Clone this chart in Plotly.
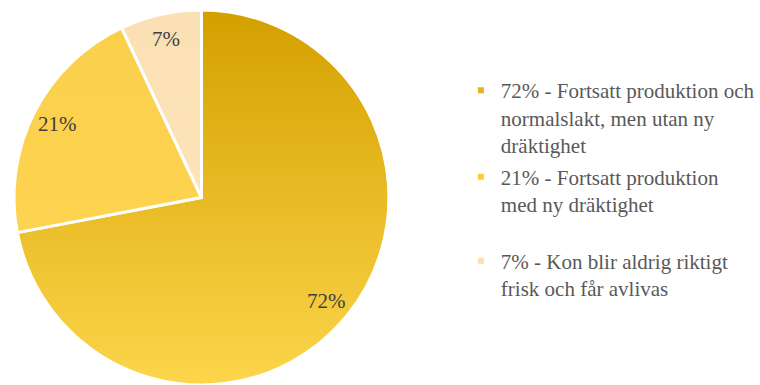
import math
import base64
import plotly.graph_objects as go

# Outcome shares (percent) and their legend descriptions
shares = [72, 21, 7]
descriptions = [
    "Fortsatt produktion och<br>normalslakt, men utan ny<br>dräktighet",
    "Fortsatt produktion<br>med ny dräktighet",
    "Kon blir aldrig riktigt<br>frisk och får avlivas",
]

# Slice fills are partly see-through so a vertical gold shading shows through
slice_rgb = [(253, 197, 0), (255, 213, 81), (255, 231, 195)]
slice_alpha = [0.35, 0.92, 0.92]
key_colors = ["#E3B21E", "#FFCB30", "#FFDDB0"]
shade_top, shade_bottom = "rgb(190,140,0)", "rgb(253,222,115)"

W, H = 760, 385
M_T = 10
dom_x = [0.0, 0.5316]
SERIF = "Liberation Serif, Times New Roman, DejaVu Serif, serif"

legend_labels = [f"{s}% - {d}" for s, d in zip(shares, descriptions)]
slice_colors = [f"rgba({r},{g},{b},{a})" for (r, g, b), a in zip(slice_rgb, slice_alpha)]

fig = go.Figure(
    go.Pie(
        labels=legend_labels,
        values=shares,
        sort=False,
        direction="clockwise",
        rotation=0,
        marker=dict(colors=slice_colors, line=dict(color="white", width=3)),
        textinfo="none",
        hoverinfo="label+percent",
        domain=dict(x=dom_x, y=[0, 1]),
        showlegend=False,
    )
)

# Legend keys: one small square per slice, each in its own legend box
legend_ids = ["legend", "legend2", "legend3"]
legend_tops = [0.840, 0.609, 0.385]
for lab, col, lid in zip(legend_labels, key_colors, legend_ids):
    fig.add_trace(go.Scatter(
        x=[None], y=[None], mode="markers", name=lab,
        marker=dict(symbol="square", size=6, color=col),
        legend=lid, showlegend=True, hoverinfo="skip",
    ))

legend_style = dict(
    x=0.608, xanchor="left", yanchor="top", valign="top",
    font=dict(family=SERIF, size=21, color="#595959"),
    bgcolor="rgba(0,0,0,0)",
)

# Pie geometry in pixels (used for the shading disc and the percent labels)
plot_h = H - M_T
radius = min((dom_x[1] - dom_x[0]) * W, plot_h) / 2
cx = (dom_x[0] + dom_x[1]) / 2 * W
cy = M_T + plot_h / 2

# Vertical shading disc placed behind the pie
svg = (
    '<svg xmlns="http://www.w3.org/2000/svg" width="200" height="200" viewBox="0 0 200 200">'
    '<defs><linearGradient id="g" x1="0" y1="0" x2="0" y2="1">'
    f'<stop offset="0" stop-color="{shade_top}"/>'
    f'<stop offset="1" stop-color="{shade_bottom}"/>'
    '</linearGradient></defs>'
    '<circle cx="100" cy="100" r="99.5" fill="url(#g)"/></svg>'
)
svg_uri = "data:image/svg+xml;base64," + base64.b64encode(svg.encode()).decode()
fig.add_layout_image(
    source=svg_uri, xref="paper", yref="paper",
    x=(cx - radius) / W, y=1 - (cy - radius - M_T) / plot_h,
    sizex=2 * radius / W, sizey=2 * radius / plot_h,
    xanchor="left", yanchor="top", sizing="stretch", layer="below",
)

# Percent labels placed along each slice's mid-angle, near the rim
total = sum(shares)
start = 0.0
for s in shares:
    mid = (start + s / 2) / total * 2 * math.pi
    start += s
    r = radius * 0.865
    px = cx + r * math.sin(mid)
    py = cy - r * math.cos(mid)
    fig.add_annotation(
        x=px / W, y=1 - (py - M_T) / plot_h, xref="paper", yref="paper",
        xanchor="center", yanchor="middle",
        text=f"{s}%", showarrow=False,
        font=dict(family=SERIF, size=21, color="#404040"),
    )

fig.update_layout(
    width=W, height=H,
    margin=dict(l=0, r=0, t=M_T, b=0),
    paper_bgcolor="white",
    plot_bgcolor="rgba(0,0,0,0)",
    xaxis=dict(visible=False),
    yaxis=dict(visible=False),
    legend=dict(y=legend_tops[0], **legend_style),
    legend2=dict(y=legend_tops[1], **legend_style),
    legend3=dict(y=legend_tops[2], **legend_style),
)

fig.write_html("out.html")
